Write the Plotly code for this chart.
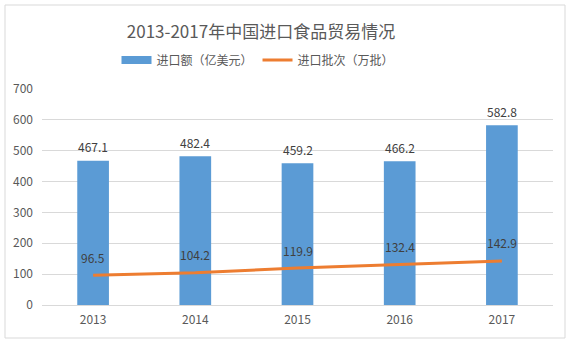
import plotly.graph_objects as go

years = ["2013", "2014", "2015", "2016", "2017"]
import_value = [467.1, 482.4, 459.2, 466.2, 582.8]
import_batches = [96.5, 104.2, 119.9, 132.4, 142.9]
y_ticks = [0, 100, 200, 300, 400, 500, 600, 700]

FONT = "Noto Sans CJK SC, Liberation Sans, sans-serif"
W, H = 576, 345
ml, mr, mt, mb = 42, 23, 89, 40
pw = W - ml - mr
ph = H - mt - mb
BLUE = "#5B9BD5"
ORANGE = "#ED7D31"

fig = go.Figure()
fig.add_trace(go.Bar(
    x=years, y=import_value, name="进口额（亿美元）",
    marker=dict(color=BLUE, line=dict(width=0)),
    width=0.31, showlegend=False,
))
# legend entry for bars drawn as a wide block
fig.add_trace(go.Scatter(
    x=[years[0]], y=[None], name="进口额（亿美元）", mode="lines",
    line=dict(color=BLUE, width=8), showlegend=True, hoverinfo="skip",
))
fig.add_trace(go.Scatter(
    x=years, y=import_batches, name="进口批次（万批）",
    mode="lines",
    line=dict(color=ORANGE, width=3),
))

annotations = []
for i, v in enumerate(import_value):
    annotations.append(dict(x=i, y=v, xref="x", yref="y", text=f"{v:.1f}", showarrow=False,
                            yshift=14, yanchor="middle",
                            font=dict(size=12, color="#404040", family=FONT)))
for i, v in enumerate(import_batches):
    annotations.append(dict(x=i, y=v, xref="x", yref="y", text=f"{v:.1f}", showarrow=False,
                            yshift=18, yanchor="middle",
                            font=dict(size=12, color="#404040", family=FONT)))

def px_x(p):
    return (p - ml) / pw

def px_y(p):
    return (H - mb - p) / ph

fig.update_layout(
    width=W, height=H,
    margin=dict(l=ml, r=mr, t=mt, b=mb),
    paper_bgcolor="white", plot_bgcolor="white",
    font=dict(family=FONT, color="#595959", size=12),
    title=dict(text="2013-2017年中国进口食品贸易情况", x=px_x(261), xanchor="center",
               xref="paper", y=1 - 32 / H, yanchor="middle",
               font=dict(size=17, color="#595959", family=FONT)),
    legend=dict(orientation="h", x=px_x(258), xanchor="center", y=px_y(60), yanchor="middle",
                font=dict(size=12, color="#595959", family=FONT),
                itemwidth=30, tracegroupgap=0, bgcolor="rgba(0,0,0,0)"),
    showlegend=True,
    annotations=annotations,
    xaxis=dict(type="category", categoryorder="array", categoryarray=years,
               range=[-0.5, len(years) - 0.5],
               showgrid=False, showline=False, ticks="", tickfont=dict(size=12, color="#595959"),
               zeroline=False, ticklabelstandoff=6),
    yaxis=dict(range=[0, 700], tickvals=y_ticks, showgrid=True, gridcolor="#D9D9D9", gridwidth=1,
               zeroline=True, zerolinecolor="#D9D9D9", zerolinewidth=1,
               showline=False, ticks="", tickfont=dict(size=12, color="#595959"),
               ticklabelstandoff=8),
    shapes=[dict(type="rect", xref="paper", yref="paper",
                 x0=px_x(5), x1=px_x(565), y0=px_y(338), y1=px_y(5),
                 line=dict(color="#D9D9D9", width=1), fillcolor="rgba(0,0,0,0)", layer="below")],
)

fig.write_html("out.html")
